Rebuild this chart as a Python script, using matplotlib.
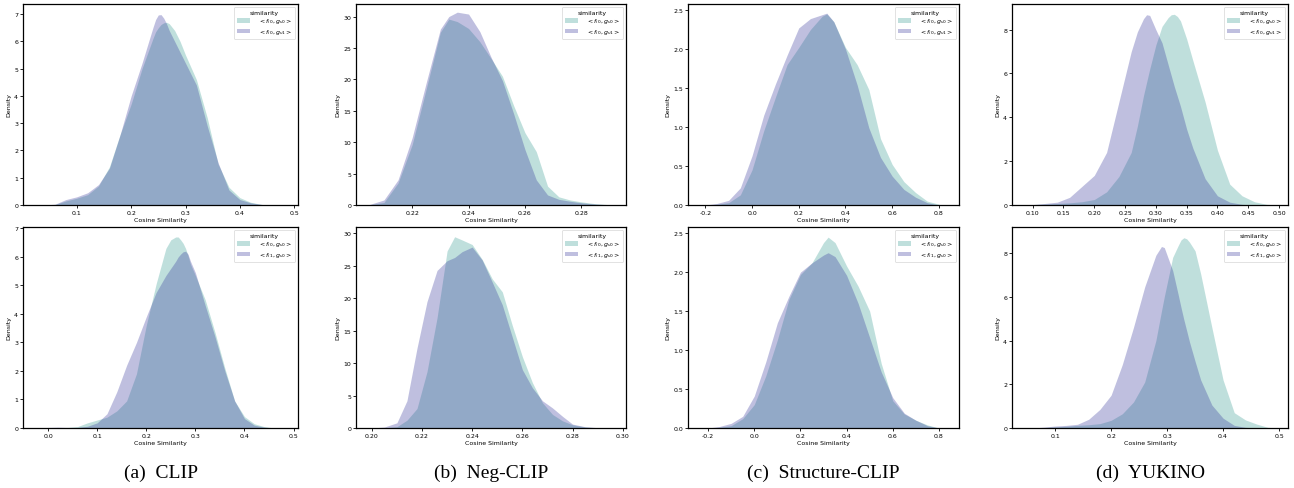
import numpy as np
import matplotlib
matplotlib.use("Agg")
import matplotlib.pyplot as plt

# density curves (x = cosine similarity, y = density)
# row 1: <f_i0,g_v0> vs <f_i0,g_v1>   row 2: <f_i0,g_v0> vs <f_i1,g_v0>

clip_top_x = [0.04, 0.06, 0.08, 0.10, 0.12, 0.14, 0.16, 0.18, 0.20, 0.22, 0.24, 0.245, 0.25,
              0.255, 0.26, 0.265, 0.27, 0.28, 0.29, 0.30, 0.32, 0.34, 0.36, 0.38, 0.40,
              0.42, 0.44, 0.46]
clip_top_a = [0.0, 0.02, 0.15, 0.25, 0.38, 0.7, 1.4, 2.6, 3.7, 5.0, 6.1, 6.35, 6.5,
              6.62, 6.68, 6.7, 6.65, 6.4, 6.0, 5.5, 4.6, 3.2, 1.5, 0.65, 0.27,
              0.1, 0.02, 0.0]
clip_top_b = [0.0, 0.03, 0.2, 0.3, 0.45, 0.75, 1.35, 2.6, 4.0, 5.2, 6.5, 6.8, 6.97,
              6.98, 6.85, 6.65, 6.4, 6.0, 5.6, 5.2, 4.4, 2.9, 1.55, 0.55, 0.2,
              0.08, 0.02, 0.0]

clip_bot_x = [-0.02, 0.0, 0.02, 0.04, 0.06, 0.08, 0.10, 0.12, 0.14, 0.16, 0.18, 0.20, 0.22,
              0.24, 0.25, 0.26, 0.265, 0.27, 0.275, 0.28, 0.285, 0.29, 0.30, 0.32, 0.34,
              0.36, 0.38, 0.40, 0.42, 0.44, 0.46]
clip_bot_a = [0.0, 0.0, 0.01, 0.02, 0.05, 0.18, 0.28, 0.38, 0.6, 0.95, 1.9, 3.6, 5.05,
              6.3, 6.6, 6.7, 6.7, 6.6, 6.48, 6.3, 6.05, 5.75, 5.35, 4.5, 3.35,
              2.1, 0.95, 0.4, 0.15, 0.05, 0.0]
clip_bot_b = [0.0, 0.02, 0.03, 0.02, 0.02, 0.06, 0.18, 0.5, 1.27, 2.2, 3.0, 3.9, 4.75,
              5.35, 5.6, 5.85, 6.0, 6.1, 6.18, 6.2, 6.1, 5.85, 5.45, 4.3, 3.2,
              2.0, 0.95, 0.33, 0.1, 0.03, 0.0]

neg_top_x = [0.205, 0.21, 0.215, 0.22, 0.225, 0.23, 0.233, 0.236, 0.24, 0.244, 0.248, 0.252,
             0.256, 0.26, 0.264, 0.268, 0.272, 0.276, 0.28, 0.285, 0.29]
neg_top_a = [0.05, 0.4, 3.5, 9.6, 18.5, 27.5, 29.6, 29.2, 28.1, 26.0, 23.3, 20.5,
             15.8, 11.5, 8.5, 3.0, 1.3, 0.8, 0.5, 0.2, 0.05]
neg_top_b = [0.1, 0.8, 4.0, 10.7, 19.5, 28.0, 30.0, 30.7, 30.4, 27.6, 23.5, 19.8,
             14.5, 8.8, 4.0, 1.6, 0.9, 0.6, 0.35, 0.15, 0.03]

neg_bot_x = [0.20, 0.205, 0.21, 0.214, 0.218, 0.222, 0.226, 0.23, 0.233, 0.236, 0.24, 0.244,
             0.248, 0.252, 0.256, 0.26, 0.264, 0.268, 0.272, 0.276, 0.28, 0.285, 0.29]
neg_bot_a = [0.0, 0.02, 0.2, 1.2, 3.0, 8.7, 17.0, 27.3, 29.5, 29.0, 28.3, 26.0,
             23.0, 21.0, 15.8, 11.0, 7.0, 3.9, 2.1, 1.1, 0.5, 0.15, 0.03]
neg_bot_b = [0.0, 0.15, 0.8, 4.2, 12.3, 19.5, 24.3, 25.8, 26.3, 27.2, 27.9, 25.9,
             22.5, 19.0, 14.0, 9.0, 6.2, 4.2, 3.1, 1.8, 0.6, 0.2, 0.05]

struct_x = [-0.2, -0.15, -0.1, -0.05, 0.0, 0.05, 0.1, 0.15, 0.2, 0.25, 0.3, 0.32, 0.35,
            0.4, 0.45, 0.5, 0.55, 0.6, 0.65, 0.7, 0.75, 0.8]
struct_top_a = [0.0, 0.01, 0.03, 0.13, 0.45, 0.95, 1.38, 1.8, 2.02, 2.25, 2.42, 2.45, 2.35,
                2.02, 1.8, 1.48, 0.85, 0.52, 0.3, 0.16, 0.05, 0.01]
struct_top_b = [0.0, 0.02, 0.06, 0.22, 0.63, 1.15, 1.55, 1.92, 2.27, 2.39, 2.44, 2.46, 2.35,
                2.0, 1.54, 0.99, 0.61, 0.37, 0.2, 0.1, 0.03, 0.0]
struct_bot_a = [0.0, 0.01, 0.03, 0.12, 0.3, 0.67, 1.13, 1.65, 1.97, 2.12, 2.38, 2.45, 2.38,
                2.08, 1.82, 1.5, 0.83, 0.35, 0.18, 0.1, 0.04, 0.0]
struct_bot_b = [0.0, 0.02, 0.06, 0.15, 0.41, 0.85, 1.35, 1.69, 2.0, 2.12, 2.22, 2.25, 2.2,
                1.96, 1.6, 1.16, 0.72, 0.39, 0.19, 0.1, 0.03, 0.0]

yuk_top_x = [0.08, 0.10, 0.12, 0.14, 0.16, 0.18, 0.20, 0.22, 0.24, 0.26, 0.27, 0.28, 0.285,
             0.29, 0.30, 0.31, 0.32, 0.325, 0.33, 0.335, 0.34, 0.35, 0.36, 0.38, 0.40,
             0.42, 0.44, 0.46, 0.48, 0.50]
yuk_top_a = [0.0, 0.02, 0.04, 0.07, 0.1, 0.15, 0.25, 0.6, 1.3, 2.4, 3.6, 5.0, 5.6,
             6.2, 7.3, 8.15, 8.55, 8.68, 8.7, 8.6, 8.4, 7.58, 6.6, 4.7, 2.5,
             0.95, 0.42, 0.15, 0.03, 0.0]
yuk_top_b = [0.0, 0.02, 0.07, 0.13, 0.35, 0.85, 1.35, 2.4, 4.7, 7.0, 7.9, 8.5, 8.68,
             8.65, 8.0, 7.4, 6.4, 5.9, 5.4, 4.95, 4.5, 3.46, 2.6, 1.2, 0.42,
             0.13, 0.03, 0.0, 0.0, 0.0]

yuk_bot_x = [0.06, 0.08, 0.10, 0.12, 0.14, 0.16, 0.18, 0.20, 0.22, 0.24, 0.26, 0.28, 0.29,
             0.295, 0.30, 0.31, 0.32, 0.325, 0.33, 0.335, 0.34, 0.35, 0.36, 0.38, 0.40,
             0.42, 0.44, 0.46, 0.48, 0.50]
yuk_bot_a = [0.0, 0.02, 0.05, 0.08, 0.12, 0.15, 0.2, 0.35, 0.65, 1.19, 2.1, 4.0, 5.35,
             6.0, 6.6, 7.8, 8.35, 8.6, 8.7, 8.65, 8.5, 8.1, 7.05, 4.6, 2.2,
             0.7, 0.37, 0.18, 0.03, 0.0]
yuk_bot_b = [0.0, 0.04, 0.09, 0.12, 0.17, 0.4, 0.85, 1.5, 2.9, 4.6, 6.45, 7.9, 8.3,
             8.25, 7.9, 7.2, 6.08, 5.5, 4.95, 4.45, 3.94, 3.05, 2.2, 1.05, 0.45,
             0.12, 0.03, 0.0, 0.0, 0.0]

label_a = r"$<f_{i0}, g_{v0}>$"
label_top_b = r"$<f_{i0}, g_{v1}>$"
label_bot_b = r"$<f_{i1}, g_{v0}>$"

captions = ["(a)  CLIP", "(b)  Neg-CLIP", "(c)  Structure-CLIP", "(d)  YUKINO"]

teal = "#2d988e"
purple = "#2d2d98"

panels = [
    # row, col, x, a, b, label_b, xlim, ylim, xticks, yticks
    (0, 0, clip_top_x, clip_top_a, clip_top_b, label_top_b, (0.001, 0.507), 7.37,
     [0.1, 0.2, 0.3, 0.4, 0.5], [0, 1, 2, 3, 4, 5, 6, 7]),
    (1, 0, clip_bot_x, clip_bot_a, clip_bot_b, label_bot_b, (-0.051, 0.509), 7.05,
     [0.0, 0.1, 0.2, 0.3, 0.4, 0.5], [0, 1, 2, 3, 4, 5, 6, 7]),
    (0, 1, neg_top_x, neg_top_a, neg_top_b, label_top_b, (0.2001, 0.2958), 32.0,
     [0.22, 0.24, 0.26, 0.28], [0, 5, 10, 15, 20, 25, 30]),
    (1, 1, neg_bot_x, neg_bot_a, neg_bot_b, label_bot_b, (0.1937, 0.3013), 31.0,
     [0.20, 0.22, 0.24, 0.26, 0.28, 0.30], [0, 5, 10, 15, 20, 25, 30]),
    (0, 2, struct_x, struct_top_a, struct_top_b, label_top_b, (-0.274, 0.886), 2.577,
     [-0.2, 0.0, 0.2, 0.4, 0.6, 0.8], [0.0, 0.5, 1.0, 1.5, 2.0, 2.5]),
    (1, 2, struct_x, struct_bot_a, struct_bot_b, label_bot_b, (-0.287, 0.887), 2.58,
     [-0.2, 0.0, 0.2, 0.4, 0.6, 0.8], [0.0, 0.5, 1.0, 1.5, 2.0, 2.5]),
    (0, 3, yuk_top_x, yuk_top_a, yuk_top_b, label_top_b, (0.0664, 0.5146), 9.17,
     [0.10, 0.15, 0.20, 0.25, 0.30, 0.35, 0.40, 0.45, 0.50], [0, 2, 4, 6, 8]),
    (1, 3, yuk_bot_x, yuk_bot_a, yuk_bot_b, label_bot_b, (0.023, 0.516), 9.19,
     [0.1, 0.2, 0.3, 0.4, 0.5], [0, 2, 4, 6, 8]),
]

W, H = 1294, 489
col_px = [(23, 298), (356, 626), (688, 959), (1012, 1288)]
row_px = [(5, 206), (228, 429)]

fig = plt.figure(figsize=(W / 100, H / 100), dpi=100)

for row, col, x, a, b, lab_b, xlim, ytop, xt, yt in panels:
    l, r = col_px[col]
    t, btm = row_px[row]
    ax = fig.add_axes([l / W, 1 - btm / H, (r - l) / W, (btm - t) / H])
    ax.fill_between(x, 0, a, color=teal, alpha=0.3, lw=0, label=label_a)
    ax.fill_between(x, 0, b, color=purple, alpha=0.3, lw=0, label=lab_b)
    ax.set_xlim(*xlim)
    ax.set_ylim(0, ytop)
    ax.set_xticks(xt)
    ax.set_yticks(yt)
    if (col == 3 and row == 0) or col == 1:
        ax.set_xticklabels(["%.2f" % v for v in xt])
    else:
        ax.set_xticklabels(["%.1f" % v for v in xt])
    if col == 2:
        ax.set_yticklabels(["%.1f" % v for v in yt])
    ax.tick_params(labelsize=4.5, length=2, width=0.6, pad=1.5)
    ax.set_xlabel("Cosine Similarity", fontsize=4.5, labelpad=1.5)
    ax.set_ylabel("Density", fontsize=4.5, labelpad=2)
    for s in ax.spines.values():
        s.set_linewidth(0.9)
    leg = ax.legend(title="similarity", loc="upper right", fontsize=4.5, title_fontsize=4.5,
                    frameon=True, borderpad=0.4, handlelength=2.2, handletextpad=1.2,
                    labelspacing=0.3)
    leg.get_frame().set_linewidth(0.5)

for col in range(4):
    l, r = col_px[col]
    fig.text((l + r) / 2 / W, 1 - 473 / H, captions[col], ha="center", va="center",
             fontsize=14, family="Liberation Serif")

fig.savefig("out.png", dpi=100)
